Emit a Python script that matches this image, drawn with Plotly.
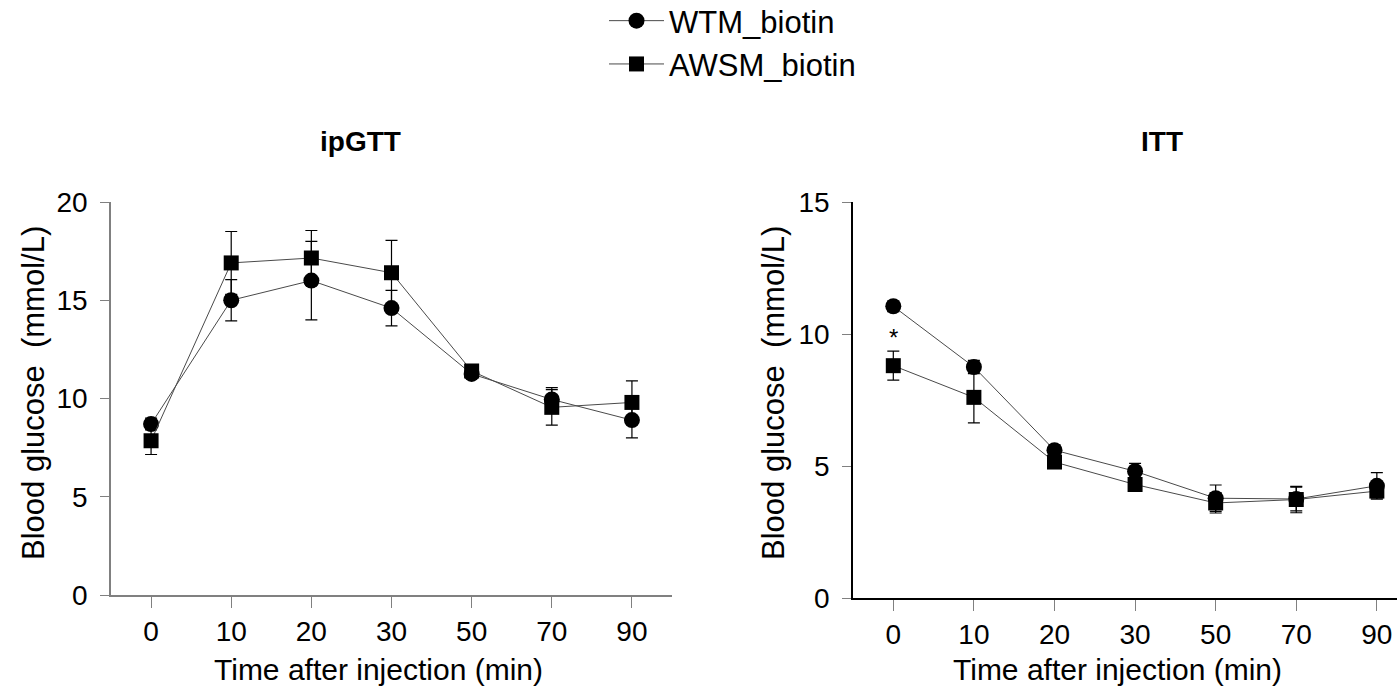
import plotly.graph_objects as go

# ---------------- data ----------------
time_labels = ["0", "10", "20", "30", "50", "70", "90"]

gtt_wtm = [8.7, 15.0, 16.0, 14.6, 11.25, 9.95, 8.9]
gtt_wtm_sem = [0.3, 1.05, 2.0, 0.9, 0.2, 0.6, 0.9]
gtt_awsm = [7.85, 16.9, 17.15, 16.4, 11.4, 9.55, 9.8]
gtt_awsm_sem = [0.7, 1.6, 1.4, 1.65, 0.25, 0.9, 1.1]

itt_wtm = [11.05, 8.75, 5.6, 4.8, 3.78, 3.75, 4.25]
itt_wtm_sem = [0.2, 0.25, 0.2, 0.3, 0.5, 0.45, 0.5]
itt_awsm = [8.8, 7.6, 5.15, 4.3, 3.6, 3.73, 4.05]
itt_awsm_sem = [0.55, 0.97, 0.2, 0.25, 0.38, 0.5, 0.3]

series_names = ["WTM_biotin", "AWSM_biotin"]
panel_titles = ["ipGTT", "ITT"]
x_title = "Time after injection (min)"
y_title = "Blood glucose  (mmol/L)"
sig_label = "*"
sig_pos = ("0", 9.85)

W, H = 1397, 693
FONT = "Liberation Sans, Arial, Helvetica, sans-serif"


def px_x(p):
    return p / W


def px_y(p):
    return 1 - p / H


fig = go.Figure()

line_col = "#4a4a4a"
err = dict(type="data", color="black", thickness=1.2, width=6)

panels = [
    ("x", "y", gtt_wtm, gtt_wtm_sem, gtt_awsm, gtt_awsm_sem, True),
    ("x2", "y2", itt_wtm, itt_wtm_sem, itt_awsm, itt_awsm_sem, False),
]
for xa, ya, w, ws, a, as_, show in panels:
    fig.add_trace(go.Scatter(
        x=time_labels, y=w, xaxis=xa, yaxis=ya, name=series_names[0],
        mode="lines+markers", showlegend=show, legendgroup="w",
        line=dict(color=line_col, width=1),
        marker=dict(symbol="circle", size=16, color="black"),
        error_y=dict(err, array=ws),
    ))
    fig.add_trace(go.Scatter(
        x=time_labels, y=a, xaxis=xa, yaxis=ya, name=series_names[1],
        mode="lines+markers", showlegend=show, legendgroup="a",
        line=dict(color=line_col, width=1),
        marker=dict(symbol="square", size=15, color="black"),
        error_y=dict(err, array=as_),
    ))

tickfont = dict(family=FONT, size=28, color="black")

common_x = dict(
    type="category", showline=True, linewidth=1.5, ticks="outside",
    ticklen=11, tickwidth=1, tickcolor="#808080", tickfont=tickfont,
    showgrid=False, zeroline=False, ticklabelstandoff=0, automargin=False,
)
common_y = dict(
    showline=True, linewidth=1.5, ticks="outside", ticklen=9, tickwidth=1,
    tickcolor="#808080", tickfont=tickfont, showgrid=False, zeroline=False,
    dtick=5, ticklabelstandoff=7, automargin=False,
)

fig.update_layout(
    width=W, height=H, autosize=False,
    margin=dict(l=0, r=0, t=0, b=0, autoexpand=False),
    paper_bgcolor="white", plot_bgcolor="white",
    font=dict(family=FONT, color="black"),
    xaxis=dict(common_x, domain=[px_x(111), px_x(672)], anchor="y",
               range=[-0.5, 6.5], linecolor="#808080"),
    yaxis=dict(common_y, domain=[px_y(595), px_y(202)], anchor="x",
               range=[0, 20], linecolor="#808080"),
    xaxis2=dict(common_x, domain=[px_x(853), 1.0], anchor="y2",
                range=[-0.5, 6.25], linecolor="black"),
    yaxis2=dict(common_y, domain=[px_y(598), px_y(202)], anchor="x2",
                range=[0, 15], linecolor="black"),
    legend=dict(x=px_x(604), y=1.0 + 6 / H, xanchor="left", yanchor="top",
                font=dict(family=FONT, size=31, color="black"),
                bgcolor="rgba(0,0,0,0)", itemwidth=55, tracegroupgap=0),
)

ann = []
# panel titles
for cx, t in ((360, panel_titles[0]), (1162, panel_titles[1])):
    ann.append(dict(x=px_x(cx), y=px_y(141), xref="paper", yref="paper",
                    xanchor="center", yanchor="middle",
                    text=f"<b>{t}</b>", showarrow=False,
                    font=dict(family=FONT, size=28, color="black")))
# x titles
for cx in (378, 1117):
    ann.append(dict(x=px_x(cx), y=px_y(669), xref="paper", yref="paper",
                    xanchor="center", yanchor="middle",
                    text=x_title, showarrow=False,
                    font=dict(family=FONT, size=30, color="black")))
# y titles
for cx in (33, 773):
    ann.append(dict(x=px_x(cx), y=px_y(393), xref="paper", yref="paper",
                    xanchor="center", yanchor="middle",
                    text=y_title, showarrow=False, textangle=-90,
                    font=dict(family=FONT, size=31, color="black")))
# significance star
ann.append(dict(x=sig_pos[0], y=sig_pos[1], xref="x2", yref="y2",
                xanchor="center", yanchor="middle",
                text=sig_label, showarrow=False,
                font=dict(family=FONT, size=24, color="black")))
fig.update_layout(annotations=ann)

fig.write_html("out.html")
